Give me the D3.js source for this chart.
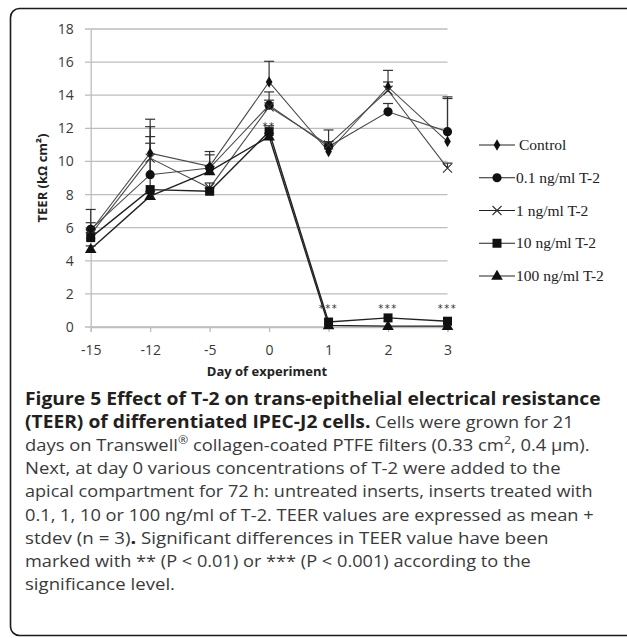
<!DOCTYPE html>
<html>
<head>
<meta charset="utf-8">
<script src="https://cdn.jsdelivr.net/npm/d3@7"></script>
<style>
body { margin: 0; background: #fff; }
text { white-space: pre; }
</style>
</head>
<body>
<script>
// datos
var dias = ["-15", "-12", "-5", "0", "1", "2", "3"];
var nombresSeries = ["Control", "0.1 ng/ml T-2", "1 ng/ml T-2", "10 ng/ml T-2", "100 ng/ml T-2"];

var valControl = [5.8, 10.5, 9.7, 14.8, 10.6, 14.5, 11.2];
var sdControl  = [1.3, 2.05, 0.9, 1.25, 0.4, 1.0, 2.7];
var val01      = [5.9, 9.2, 9.6, 13.4, 10.9, 13.0, 11.8];
var sd01       = [0.4, 2.3, 0.8, 0.8, 0.3, 0.5, 2.0];
var val1       = [5.6, 10.2, 8.4, 13.3, 11.0, 14.3, 9.6];
var sd1        = [0.3, 1.9, 0.3, 0.4, 0.9, 0.5, 0.3];
var val10      = [5.4, 8.3, 8.2, 11.8, 0.3, 0.55, 0.35];
var sd10       = [0.3, 2.8, 0.2, 0.35, 0.05, 0.05, 0.05];
var val100     = [4.7, 7.9, 9.4, 11.5, 0.1, 0.05, 0.05];
var sd100      = [0.2, 0.3, 0.3, 0.2, 0.05, 0.05, 0.05];

var ticksY = [0, 2, 4, 6, 8, 10, 12, 14, 16, 18];
var significancia  = ["", "", "", "**", "***", "***", "***"];
var significanciaY = [null, null, null, 12.35, 1.3, 1.3, 1.3];

var svgW = 627;
var svgH = 638;

var valores = [valControl, val01, val1, val10, val100];
var desvios = [sdControl, sd01, sd1, sd10, sd100];
var marcadores = ["diamante", "circulo", "cruz", "cuadrado", "triangulo"];

var svg = d3.select("body")
			.append("svg")
			.attr("width", svgW)
			.attr("height", svgH)
			.style("display", "block")
			;

// borde redondeado de la figura (el lado derecho queda fuera)
svg.append("rect")
   .attr("x", 10.5)
   .attr("y", 8.5)
   .attr("width", 800)
   .attr("height", 627)
   .attr("rx", 9)
   .attr("fill", "none")
   .attr("stroke", "#1a1a1a")
   .attr("stroke-width", 1.6)
   ;

/*
>>>>>>>>>>>>>>>>>>>>>>>>>>>>>>>>>>>>>>>>>>>>>>>>>>>>>>>>>>>>> Ejes
*/

var xScale = d3.scalePoint()
			   .domain(dias)
			   .range([90.7, 447.5])
			   ;

var yScale = d3.scaleLinear()
			   .domain([0, 18])
			   .range([327, 29])
			   ;

// grilla
svg.append("g")
   .selectAll("line")
   .data(ticksY)
   .enter()
   .append("line")
   .attr("x1", 85)
   .attr("x2", 447.5)
   .attr("y1", function (d) { return yScale(d); })
   .attr("y2", function (d) { return yScale(d); })
   .attr("stroke", "#bdbdbd")
   .attr("stroke-width", 1.3)
   ;

var yAxis = d3.axisLeft(yScale)
			  .tickValues(ticksY)
			  .tickSize(0)
			  .tickPadding(17)
			  ;

var gy = svg.append("g")
			.attr("transform", "translate(90.7,0)")
			.call(yAxis)
			;
gy.select(".domain").attr("stroke", "#bdbdbd").attr("stroke-width", 1.3);
gy.selectAll("text")
  .attr("font-family", "Open Sans")
  .attr("font-size", "14px")
  .attr("fill", "#3a3a3a")
  ;

var xAxis = d3.axisBottom(xScale)
			  .tickSize(5)
			  .tickPadding(13)
			  ;

var gx = svg.append("g")
			.attr("transform", "translate(0,327)")
			.call(xAxis)
			;
gx.select(".domain").attr("stroke", "#bdbdbd").attr("stroke-width", 1.3);
gx.selectAll(".tick line").attr("stroke", "#bdbdbd").attr("stroke-width", 1.3);
gx.selectAll("text")
  .attr("font-family", "Open Sans")
  .attr("font-size", "14px")
  .attr("fill", "#3a3a3a")
  ;

svg.append("text")
   .attr("x", 267)
   .attr("y", 376)
   .attr("text-anchor", "middle")
   .attr("font-family", "Open Sans")
   .attr("font-weight", "bold")
   .attr("font-size", "13px")
   .attr("fill", "#222")
   .text("Day of experiment")
   ;

svg.append("text")
   .attr("transform", "translate(47,178) rotate(-90)")
   .attr("text-anchor", "middle")
   .attr("font-family", "Open Sans")
   .attr("font-weight", "bold")
   .attr("font-size", "13px")
   .attr("fill", "#222")
   .text("TEER (kΩ cm²)")
   ;

/*
<<<<<<<<<<<<<<<<<<<<<<<<<<<<<<<<<<<<<<<<<<<<<<<<<<<<<<<<<<<<< Ejes
*/

/*
>>>>>>>>>>>>>>>>>>>>>>>>>>>>>>>>>>>>>>>>>>>>>>>>>>>>>>>>>>>>> Series
*/

function dibujarMarcador(g, tipo, x, y) {
	if (tipo == "diamante") {
		g.append("path").attr("d", d3.symbol().type(d3.symbolDiamond).size(38)())
		 .attr("transform", "translate(" + x + "," + y + ")").attr("fill", "#111");
	} else if (tipo == "circulo") {
		g.append("circle").attr("cx", x).attr("cy", y).attr("r", 4.6).attr("fill", "#111");
	} else if (tipo == "cruz") {
		g.append("path").attr("d", "M" + (x - 4.5) + "," + (y - 4.5) + "L" + (x + 4.5) + "," + (y + 4.5) +
								  "M" + (x - 4.5) + "," + (y + 4.5) + "L" + (x + 4.5) + "," + (y - 4.5))
		 .attr("stroke", "#333").attr("stroke-width", 1.1).attr("fill", "none");
	} else if (tipo == "cuadrado") {
		g.append("rect").attr("x", x - 4.5).attr("y", y - 4.5).attr("width", 9).attr("height", 9).attr("fill", "#111");
	} else {
		g.append("path").attr("d", d3.symbol().type(d3.symbolTriangle).size(58)())
		 .attr("transform", "translate(" + x + "," + (y + 0.5) + ")").attr("fill", "#111");
	}
}

var linea = d3.line()
			  .x(function (d, i) { return xScale(dias[i]); })
			  .y(function (d) { return yScale(d); })
			  ;

svg.append("g")
   .selectAll("path")
   .data(valores)
   .enter()
   .append("path")
   .attr("d", function (d) { return linea(d); })
   .attr("fill", "none")
   .attr("stroke", function (d, i) { return i >= 3 ? "#222" : "#4a4a4a"; })
   .attr("stroke-width", function (d, i) { return i >= 3 ? 1.4 : 1.1; })
   ;

// barras de error (media + stdev)
var gErr = svg.append("g");
valores.forEach(function (serie, s) {
	serie.forEach(function (v, i) {
		var sd = desvios[s][i];
		if (sd < 0.1) return;
		var x = xScale(dias[i]);
		gErr.append("line")
			.attr("x1", x).attr("x2", x)
			.attr("y1", yScale(v)).attr("y2", yScale(v + sd))
			.attr("stroke", "#333").attr("stroke-width", 1.2);
		gErr.append("line")
			.attr("x1", x - 5).attr("x2", x + 5)
			.attr("y1", yScale(v + sd)).attr("y2", yScale(v + sd))
			.attr("stroke", "#333").attr("stroke-width", 1.2);
	});
});

var gMarc = svg.append("g");
valores.forEach(function (serie, s) {
	serie.forEach(function (v, i) {
		dibujarMarcador(gMarc, marcadores[s], xScale(dias[i]), yScale(v));
	});
});

svg.append("g")
   .selectAll("text")
   .data(dias)
   .enter()
   .filter(function (d, i) { return significancia[i] != ""; })
   .append("text")
   .attr("x", function (d) { return xScale(d); })
   .attr("y", function (d) { var i = dias.indexOf(d); return yScale(significanciaY[i]) + 7; })
   .attr("text-anchor", "middle")
   .attr("font-family", "DejaVu Sans")
   .attr("font-size", "10px")
   .attr("letter-spacing", "1.5px")
   .attr("fill", "#333")
   .text(function (d) { return significancia[dias.indexOf(d)]; })
   ;

/*
<<<<<<<<<<<<<<<<<<<<<<<<<<<<<<<<<<<<<<<<<<<<<<<<<<<<<<<<<<<<< Series
*/

// leyenda
var legendY = d3.scalePoint().domain(nombresSeries).range([145, 276]);
var gLey = svg.append("g");
nombresSeries.forEach(function (n, s) {
	var y = legendY(n);
	gLey.append("line").attr("x1", 479).attr("x2", 515).attr("y1", y).attr("y2", y)
		.attr("stroke", "#222").attr("stroke-width", 1.2);
	dibujarMarcador(gLey, marcadores[s], 497, y);
	gLey.append("text")
		.attr("x", s == 0 ? 519 : 516)
		.attr("y", y + 5)
		.attr("font-family", "Liberation Serif")
		.attr("font-size", "15.5px")
		.attr("fill", "#222")
		.text(n);
});

/*
>>>>>>>>>>>>>>>>>>>>>>>>>>>>>>>>>>>>>>>>>>>>>>>>>>>>>>>>>>>>> Leyenda de figura
*/

var lineasTexto = [
	[["Figure 5 Effect of T-2 on trans-epithelial electrical resistance", "b"]],
	[["(TEER) of differentiated IPEC-J2 cells.", "b"], [" Cells were grown for 21", "r"]],
	[["days on Transwell", "r"], ["®", "sup"], [" collagen-coated PTFE filters (0.33 cm", "r"], ["2", "sup"], [", 0.4 μm).", "r"]],
	[["Next, at day 0 various concentrations of T-2 were added to the", "r"]],
	[["apical compartment for 72 h: untreated inserts, inserts treated with", "r"]],
	[["0.1, 1, 10 or 100 ng/ml of T-2. TEER values are expressed as mean +", "r"]],
	[["stdev (n = 3)", "r"], [".", "b"], [" Significant differences in TEER value have been", "r"]],
	[["marked with ** (P < 0.01) or *** (P < 0.001) according to the", "r"]],
	[["significance level.", "r"]]
];
var anchoLineas = [576, 549, 565, 536, 568, 569, 524, 506, 150];

lineasTexto.forEach(function (partes, k) {
	var t = svg.append("text")
			   .attr("x", 0)
			   .attr("y", 0)
			   .attr("font-family", "Open Sans")
			   ;
	var enSup = false;
	partes.forEach(function (p) {
		var ts = t.append("tspan").text(p[0]);
		if (p[1] == "b") {
			ts.attr("font-weight", "bold").attr("font-size", "17.5px").attr("fill", "#231f20");
		} else if (p[1] == "sup") {
			ts.attr("font-size", "11px").attr("fill", "#3a3a3a").attr("dy", -7);
		} else {
			ts.attr("font-size", "16.5px").attr("fill", "#3a3a3a");
		}
		if (enSup) ts.attr("dy", 7);
		enSup = p[1] == "sup";
	});
	var w = t.node().getComputedTextLength();
	var sx = anchoLineas[k] / w;
	t.attr("transform", "translate(25," + (405 + k * 23.1) + ") scale(" + sx + ",1)");
});
</script>
</body>
</html>
